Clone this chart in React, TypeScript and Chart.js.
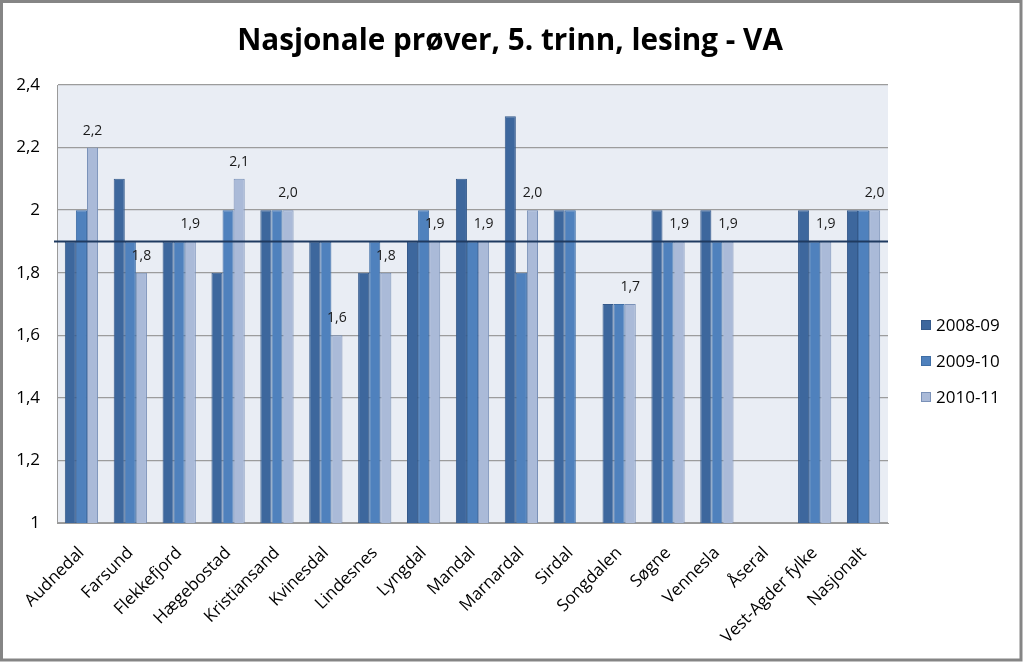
import React, { useEffect, useRef } from "react";
import { Chart, registerables } from "chart.js";

Chart.register(...registerables);

const titleText = "Nasjonale prøver, 5. trinn, lesing - VA";

const categories = [
  "Audnedal", "Farsund", "Flekkefjord", "Hægebostad", "Kristiansand", "Kvinesdal",
  "Lindesnes", "Lyngdal", "Mandal", "Marnardal", "Sirdal", "Songdalen", "Søgne",
  "Vennesla", "Åseral", "Vest-Agder fylke", "Nasjonalt",
];

const seriesNames = ["2008-09", "2009-10", "2010-11"];

const values0809 = [1.9, 2.1, 1.9, 1.8, 2.0, 1.9, 1.8, 1.9, 2.1, 2.3, 2.0, 1.7, 2.0, 2.0, 1.0, 2.0, 2.0];
const values0910 = [2.0, 1.9, 1.9, 2.0, 2.0, 1.9, 1.9, 2.0, 1.9, 1.8, 2.0, 1.7, 1.9, 1.9, 1.0, 1.9, 2.0];
const values1011 = [2.2, 1.8, 1.9, 2.1, 2.0, 1.6, 1.8, 1.9, 1.9, 2.0, null, 1.7, 1.9, 1.9, null, 1.9, 2.0];

const yMin = 1;
const yMax = 2.4;
const yStep = 0.2;
const referenceValue = 1.9;

const seriesColors = ["#3D679D", "#4F81BD", "#AABAD8"];
const seriesBorders = ["#34598A", "#3F6EA6", "#7A91B8"];

const FONT = '"Open Sans", "DejaVu Sans", sans-serif';

const fmt = (v: number, fixed: boolean) => {
  const r = Math.round(v * 10) / 10;
  return (fixed ? r.toFixed(1) : String(r)).replace(".", ",");
};

export default function App() {
  const ref = useRef<HTMLCanvasElement | null>(null);

  useEffect(() => {
    document.body.style.margin = "0";
    const canvas = ref.current;
    if (!canvas) return;

    const decor = {
      id: "decor",
      beforeDraw(chart: any) {
        const { ctx, chartArea } = chart;
        ctx.save();
        ctx.fillStyle = "#ffffff";
        ctx.fillRect(0, 0, chart.width, chart.height);
        ctx.fillStyle = "#E9EDF4";
        ctx.fillRect(chartArea.left, chartArea.top, chartArea.right - chartArea.left, chartArea.bottom - chartArea.top);
        ctx.restore();
      },
      afterDatasetsDraw(chart: any) {
        const { ctx, chartArea } = chart;
        const ys = chart.scales.y;
        const ry = ys.getPixelForValue(referenceValue);
        ctx.save();
        ctx.strokeStyle = "#1F3A60";
        ctx.lineWidth = 2;
        ctx.beginPath();
        ctx.moveTo(chartArea.left - 3, ry);
        ctx.lineTo(chartArea.right, ry);
        ctx.stroke();
        const meta = chart.getDatasetMeta(2);
        ctx.fillStyle = "#1a1a1a";
        ctx.font = `14px ${FONT}`;
        ctx.textAlign = "center";
        ctx.textBaseline = "middle";
        meta.data.forEach((el: any, i: number) => {
          const v = values1011[i];
          if (v === null || v === undefined) return;
          ctx.fillText(fmt(v, true), el.x, el.y - 17);
        });
        ctx.restore();
      },
      afterDraw(chart: any) {
        const { ctx } = chart;
        ctx.save();
        let size = 30;
        ctx.font = `bold ${size}px ${FONT}`;
        const w = ctx.measureText(titleText).width;
        size = size * 546 / w;
        ctx.font = `bold ${size}px ${FONT}`;
        ctx.fillStyle = "#000";
        ctx.textAlign = "center";
        ctx.textBaseline = "middle";
        ctx.fillText(titleText, 510, 42);
        ctx.font = `17px ${FONT}`;
        ctx.textAlign = "left";
        seriesNames.forEach((name, i) => {
          const cy = 325 + i * 36;
          ctx.fillStyle = seriesColors[i];
          ctx.fillRect(921, cy - 5, 10, 10);
          ctx.strokeStyle = seriesBorders[i];
          ctx.lineWidth = 1;
          ctx.strokeRect(921.5, cy - 4.5, 9, 9);
          ctx.fillStyle = "#000";
          ctx.fillText(name, 936, cy + 1);
        });
        ctx.strokeStyle = "#858585";
        ctx.lineWidth = 3;
        ctx.strokeRect(1.5, 1.5, 1019.5, 658.5);
        ctx.restore();
      },
    };

    const data = [values0809, values0910, values1011];

    const chart = new Chart(canvas, {
      type: "bar",
      data: {
        labels: categories,
        datasets: seriesNames.map((name, i) => ({
          label: name,
          data: data[i] as any,
          backgroundColor: seriesColors[i],
          borderColor: seriesBorders[i],
          borderWidth: 1,
          barPercentage: 1,
          categoryPercentage: 0.68,
        })),
      },
      options: {
        responsive: false,
        animation: false,
        events: [],
        layout: { padding: { left: 0, top: 85, right: 136, bottom: 0 } },
        plugins: {
          legend: { display: false },
          title: { display: false },
          tooltip: { enabled: false },
        },
        scales: {
          x: {
            grid: { display: false, drawTicks: false },
            border: { display: true, color: "#9A9A9A", width: 1 },
            ticks: {
              color: "#000",
              font: { family: FONT, size: 17 },
              minRotation: 45,
              maxRotation: 45,
              autoSkip: false,
              padding: 20,
            },
            afterFit(scale: any) {
              scale.height = 139;
            },
          },
          y: {
            min: yMin,
            max: yMax,
            grid: { color: "#9C9C9C", lineWidth: 1.3, drawTicks: false },
            border: { display: true, color: "#9A9A9A", width: 1 },
            ticks: {
              stepSize: yStep,
              color: "#000",
              font: { family: FONT, size: 17 },
              padding: 17,
              callback: (v: any) => fmt(Number(v), false),
            },
            afterFit(scale: any) {
              scale.width = 57;
            },
          },
        },
      },
      plugins: [decor],
    });

    return () => chart.destroy();
  }, []);

  return (
    <div style={{ width: 1024, height: 662 }}>
      <canvas ref={ref} width={1024} height={662} style={{ display: "block" }} />
    </div>
  );
}
